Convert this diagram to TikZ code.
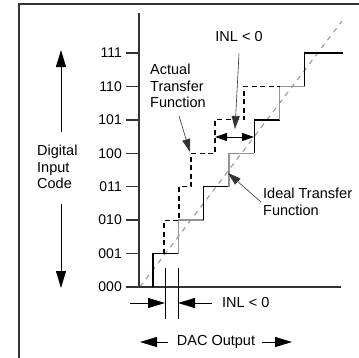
\documentclass[tikz,border=0pt]{standalone}
\usepackage{fontspec}
\setmainfont{Liberation Sans}
\usetikzlibrary{arrows.meta}
\begin{document}
\begin{tikzpicture}[x=1pt,y=-1pt,
  lbl/.style={font=\fontsize{14.5}{16.5}\selectfont, inner sep=0pt, text=black},
  ticklbl/.style={font=\fontsize{14}{15}\selectfont, inner sep=0pt, anchor=east},
  axisline/.style={line width=1.4pt, draw=black!80},
  bigarrow/.style={line width=1pt, -{Triangle[length=17pt,width=10pt]}},
  thinarrow/.style={line width=0.6pt, draw=black!80, -{Triangle[length=13pt,width=8pt]}},
  dblarrow/.style={line width=1pt, {Triangle[length=12pt,width=8pt]}-{Triangle[length=12pt,width=8pt]}},
  ideal/.style={line width=1.3pt, draw=black},
  idealgray/.style={line width=1.3pt, draw=black!42},
  actual/.style={line width=1.1pt, draw=black, dash pattern=on 5pt off 3.5pt},
  diag/.style={line width=1.1pt, draw=black!40, dash pattern=on 5pt off 5pt},
  extline/.style={line width=0.9pt, draw=black}
]
\useasboundingbox (0,0) rectangle (359,357);
% frame (only top and left visible)
\draw[line width=1.8pt, draw=black!80] (360,4) -- (19,4) -- (19,358);

% levels
\def\ya{287}\def\yb{253.6}\def\yc{220.1}\def\yd{186.7}
\def\ye{153.3}\def\yf{119.9}\def\yg{86.4}\def\yh{53}
% risers of ideal
\def\xa{153}\def\xb{178.3}\def\xc{203.6}\def\xd{228.9}
\def\xe{254.2}\def\xf{279.5}\def\xg{304.8}

% diagonal ideal line
\coordinate (d0) at (140,287);
\coordinate (d1) at (342,21);
\draw[diag] (d0) -- (d1);

% axes
\coordinate (yb) at (139,287);
\coordinate (yt) at (139,13);
\coordinate (xl) at (126,287);
\coordinate (xr) at (341,287);
\draw[axisline] (yt) -- (yb);
\draw[axisline] (xl) -- (xr);

% ticks and labels
\foreach \yy in {\yb,\yc,\yd,\ye,\yf,\yg,\yh}{
  \draw[axisline] (126,\yy) -- (139,\yy);
}
\node[ticklbl] (t0) at (122,287) {000};
\node[ticklbl] (t1) at (122,\yb) {001};
\node[ticklbl] (t2) at (122,\yc) {010};
\node[ticklbl] (t3) at (122,\yd) {011};
\node[ticklbl] (t4) at (122,\ye) {100};
\node[ticklbl] (t5) at (122,\yf) {101};
\node[ticklbl] (t6) at (122,\yg) {110};
\node[ticklbl] (t7) at (122,\yh) {111};

% ideal staircase (alternating tone as in the reference)
\draw[ideal] (\xa,\ya) -- (\xa,\yb) -- (\xb,\yb);
\draw[idealgray] (\xb,\yb) -- (\xb,\yc) -- (\xc,\yc);
\draw[ideal] (\xc,\yc) -- (\xc,\yd) -- (\xd,\yd);
\draw[idealgray] (\xd,\yd) -- (\xd,\ye) -- (\xe,\ye);
\draw[ideal] (\xe,\ye) -- (\xe,\yf) -- (\xf,\yf);
\draw[idealgray] (\xf,\yf) -- (\xf,\yg) -- (\xg,\yg);
\draw[ideal] (\xg,\yg) -- (\xg,\yh) -- (343,\yh);

% actual transfer function (dashed)
\draw[actual] (164,\yb) -- (164,\yc) -- (179,\yc) -- (179,\yd) -- (191,\yd)
  -- (191,\ye) -- (215,\ye) -- (215,\yf) -- (244,\yf) -- (244,\yg) -- (\xf,\yg);

% INL double arrow (upper)
\coordinate (inlL) at (215,137);
\coordinate (inlR) at (254,137);
\draw[dblarrow] (inlL) -- (inlR);
\node[lbl] (inltop) at (239,37) {INL < 0};
\coordinate (inlTail) at (239,54);
\coordinate (inlTip) at (235,129);
\draw[thinarrow] (inlTail) -- (inlTip);

% Actual transfer function label
\node[lbl, anchor=west, align=left] (act) at (150,86) {Actual\\Transfer\\Function};
\coordinate (actTail) at (179,116);
\coordinate (actTip) at (190,152);
\draw[thinarrow] (actTail) -- (actTip);

% Ideal transfer function label
\node[lbl, anchor=west, align=left] (idl) at (263,202) {Ideal Transfer\\Function};
\coordinate (idlTail) at (261,202);
\coordinate (idlTip) at (228,173);
\draw[thinarrow] (idlTail) -- (idlTip);

% Digital input code label
\node[lbl, anchor=west, align=left] (dic) at (37,167) {Digital\\Input\\Code};
\coordinate (upA) at (61,132);
\coordinate (upB) at (61,50);
\coordinate (dnA) at (61,204);
\coordinate (dnB) at (61,288);
\draw[bigarrow] (upA) -- (upB);
\draw[bigarrow] (dnA) -- (dnB);

% lower INL
\coordinate (e1a) at (165,268);
\coordinate (e1b) at (165,319);
\coordinate (e2a) at (178,268);
\coordinate (e2b) at (178,319);
\draw[extline] (e1a) -- (e1b);
\draw[extline] (e2a) -- (e2b);
\coordinate (la) at (130,303);
\coordinate (lb) at (165,303);
\coordinate (ra) at (212,303);
\coordinate (rb) at (178,303);
\draw[bigarrow] (la) -- (lb);
\draw[bigarrow] (ra) -- (rb);
\node[lbl, anchor=west] (inlbot) at (222,303) {INL < 0};

% DAC output
\node[lbl] (dac) at (216,342) {DAC Output};
\coordinate (dacW) at (168,342);
\coordinate (dl) at (140,342);
\coordinate (dacE) at (262,342);
\coordinate (dr) at (292,342);
\draw[bigarrow] (dacW) -- (dl);
\draw[bigarrow] (dacE) -- (dr);
\end{tikzpicture}
\end{document}
